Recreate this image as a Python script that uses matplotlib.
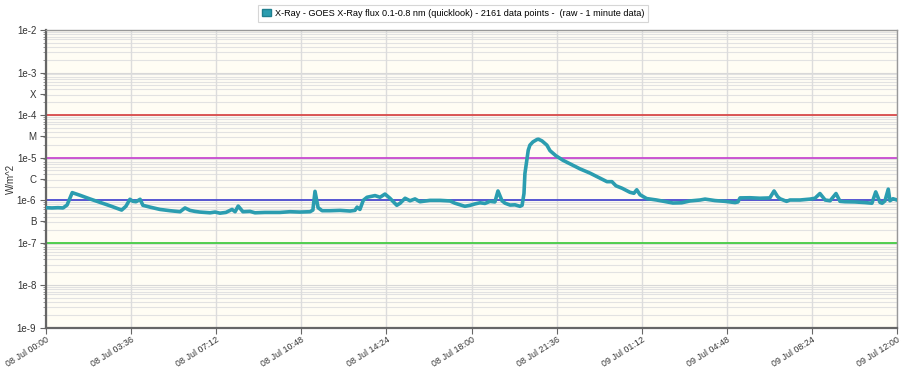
import matplotlib
matplotlib.use("Agg")
import matplotlib.pyplot as plt
import matplotlib.dates as mdates
from matplotlib.patches import Patch
import pandas as pd

plt.rcParams['font.family'] = ['Liberation Sans', 'DejaVu Sans']

# hours after 08 Jul 00:00
hours = [0.00, 0.25, 0.51, 0.72, 0.89, 1.11, 1.44, 1.86, 2.28, 2.71, 3.20, 3.38, 3.55,
         3.68, 3.81, 3.98, 4.10, 4.40, 4.82, 5.25, 5.67, 5.88, 6.09, 6.30, 6.51, 6.94,
         7.15, 7.36, 7.61, 7.87, 8.00, 8.13, 8.33, 8.63, 8.84, 9.26, 9.90, 10.32, 10.74,
         11.17, 11.29, 11.38, 11.51, 11.68, 12.01, 12.44, 12.86, 13.07, 13.16, 13.28,
         13.42, 13.58, 13.92, 14.13, 14.34, 14.55, 14.84, 14.98, 15.19, 15.40, 15.61,
         15.82, 16.24, 16.67, 17.09, 17.30, 17.51, 17.72, 17.94, 18.15, 18.36, 18.57,
         18.78, 18.99, 19.12, 19.29, 19.42, 19.63, 19.84, 20.05, 20.14, 20.22, 20.26,
         20.34, 20.40, 20.47, 20.60, 20.77, 20.83, 20.98, 21.19, 21.32, 21.57, 21.87,
         22.17, 22.59, 23.01, 23.44, 23.73, 23.94, 24.11, 24.37, 24.70, 24.87, 24.99,
         25.13, 25.41, 25.83, 26.19, 26.52, 26.89, 27.24, 27.67, 27.88, 28.30, 28.72,
         29.15, 29.27, 29.36, 29.78, 30.20, 30.62, 30.80, 30.95, 31.05, 31.33, 31.47,
         31.90, 32.32, 32.53, 32.74, 32.96, 33.17, 33.42, 33.59, 33.80, 34.22, 34.65,
         34.94, 35.10, 35.28, 35.37, 35.49, 35.63, 35.70, 35.83, 36.00]

flux = [6.6e-7, 6.5e-7, 6.6e-7, 6.5e-7, 7.6e-7, 1.49e-6, 1.29e-6, 1.06e-6, 8.8e-7, 7.3e-7,
        5.8e-7, 7.1e-7, 1.04e-6, 9.3e-7, 9.1e-7, 1.04e-6, 7.5e-7, 6.8e-7, 6.0e-7, 5.6e-7,
        5.3e-7, 6.5e-7, 5.7e-7, 5.4e-7, 5.2e-7, 5.0e-7, 5.2e-7, 4.9e-7, 5.1e-7, 6.0e-7,
        5.3e-7, 7.2e-7, 5.3e-7, 5.4e-7, 5.0e-7, 5.1e-7, 5.1e-7, 5.3e-7, 5.2e-7, 5.3e-7,
        5.8e-7, 1.6e-6, 6.6e-7, 5.6e-7, 5.6e-7, 5.7e-7, 5.5e-7, 5.7e-7, 6.8e-7, 6.0e-7,
        9.8e-7, 1.16e-6, 1.27e-6, 1.16e-6, 1.38e-6, 1.10e-6, 7.5e-7, 8.4e-7, 1.10e-6,
        9.6e-7, 1.06e-6, 9.1e-7, 9.8e-7, 9.8e-7, 9.5e-7, 8.4e-7, 7.7e-7, 7.1e-7, 7.5e-7,
        8.1e-7, 8.6e-7, 8.3e-7, 9.3e-7, 9.0e-7, 1.63e-6, 9.6e-7, 8.4e-7, 7.6e-7, 7.7e-7,
        7.1e-7, 7.5e-7, 1.42e-6, 4.2e-6, 8.6e-6, 1.48e-5, 1.95e-5, 2.33e-5, 2.65e-5,
        2.70e-5, 2.46e-5, 1.95e-5, 1.45e-5, 1.10e-5, 8.6e-6, 7.1e-6, 5.4e-6, 4.3e-6,
        3.25e-6, 2.7e-6, 2.7e-6, 2.16e-6, 1.89e-6, 1.52e-6, 1.44e-6, 1.74e-6, 1.33e-6,
        1.08e-6, 1.0e-6, 9.2e-7, 8.5e-7, 8.6e-7, 9.5e-7, 1.0e-6, 1.05e-6, 9.7e-7, 9.3e-7,
        8.7e-7, 9.0e-7, 1.12e-6, 1.13e-6, 1.10e-6, 1.12e-6, 1.63e-6, 1.2e-6, 1.07e-6,
        9.3e-7, 1.0e-6, 1.0e-6, 1.05e-6, 1.1e-6, 1.42e-6, 1.0e-6, 9.6e-7, 1.42e-6, 9.3e-7,
        9.1e-7, 9.0e-7, 8.7e-7, 8.4e-7, 1.55e-6, 8.8e-7, 8.4e-7, 9.5e-7, 1.8e-6, 9.6e-7,
        1.07e-6, 1.0e-6]

class_levels = [1e-4, 1e-5, 1e-6, 1e-7]
class_colors = ['#d94a4a', '#c84ad0', '#4a4ad0', '#44cc44']

ytick_vals = [1e-2, 1e-3, 10**-3.5, 1e-4, 10**-4.5, 1e-5, 10**-5.5,
              1e-6, 10**-6.5, 1e-7, 1e-8, 1e-9]
ytick_labels = ['1e-2', '1e-3', 'X', '1e-4', 'M', '1e-5', 'C',
                '1e-6', 'B', '1e-7', '1e-8', '1e-9']

start = pd.Timestamp('2024-07-08 00:00')
times = start + pd.to_timedelta(hours, unit='h')
xticks = [start + pd.Timedelta(minutes=216 * i) for i in range(11)]

fig = plt.figure(figsize=(9.02, 3.67), dpi=100)
ax = fig.add_axes([46 / 902, 1 - 327.5 / 367, 851 / 902, 297.5 / 367])
ax.set_facecolor('#fffdf4')
ax.set_yscale('log')
ax.set_ylim(1e-9, 1e-2)
ax.set_xlim(xticks[0], xticks[-1])

# minor horizontal grid
for dec in range(-9, -2):
    for m in range(2, 10):
        ax.axhline(m * 10.0**dec, color='#e2e2e2', lw=0.8, zorder=1)
    ax.axhline(10.0**dec, color='#d8d8d8', lw=0.8, zorder=1)
for t in xticks:
    ax.axvline(t, color='#dcdcdc', lw=1.0, zorder=1)

for lev, c in zip(class_levels, class_colors):
    ax.axhline(lev, color=c, lw=1.3, zorder=2)

ax.plot(times, flux, color='#2b9db0', lw=2.6, zorder=3, solid_joinstyle='round')

ax.set_yticks(ytick_vals)
ax.set_yticklabels(ytick_labels)
ax.yaxis.set_minor_locator(matplotlib.ticker.LogLocator(base=10, subs=range(2, 10), numticks=20))
ax.yaxis.set_minor_formatter(matplotlib.ticker.NullFormatter())
ax.tick_params(axis='y', which='major', length=4, width=0.8, color='#666666',
               labelsize=7, labelcolor='#333333', pad=3)
ax.tick_params(axis='y', which='minor', length=2, width=0.6, color='#888888')

ax.set_xticks(xticks)
ax.xaxis.set_major_formatter(mdates.DateFormatter('%d %b %H:%M'))
ax.tick_params(axis='x', length=4, width=0.8, color='#666666', labelsize=6.4,
               labelcolor='#333333', pad=1.5)
for lbl in ax.get_xticklabels():
    lbl.set_rotation(32)
    lbl.set_ha('right')
    lbl.set_va('top')
    lbl.set_rotation_mode('anchor')

for side in ['left', 'bottom']:
    ax.spines[side].set_color('#666666')
    ax.spines[side].set_linewidth(1.6)
for side in ['top', 'right']:
    ax.spines[side].set_color('#999999')
    ax.spines[side].set_linewidth(1.0)

ax.set_ylabel('W/m^2', fontsize=7, color='#333333')
ax.yaxis.set_label_coords(-(46 - 16) / 851, 0.5)

handle = Patch(facecolor='#2b9db0', edgecolor='#1f7f8f')
leg = fig.legend([handle], ['X-Ray - GOES X-Ray flux 0.1-0.8 nm (quicklook) - 2161 data points -  (raw - 1 minute data)'],
                 loc='upper center', bbox_to_anchor=(0.502, 1.0), fontsize=6.6, frameon=True,
                 fancybox=False, handlelength=1.0, handleheight=0.9, borderpad=0.45,
                 handletextpad=0.4)
leg.get_frame().set_edgecolor('#cccccc')
leg.get_frame().set_linewidth(0.8)

fig.savefig('out.png', dpi=100)
